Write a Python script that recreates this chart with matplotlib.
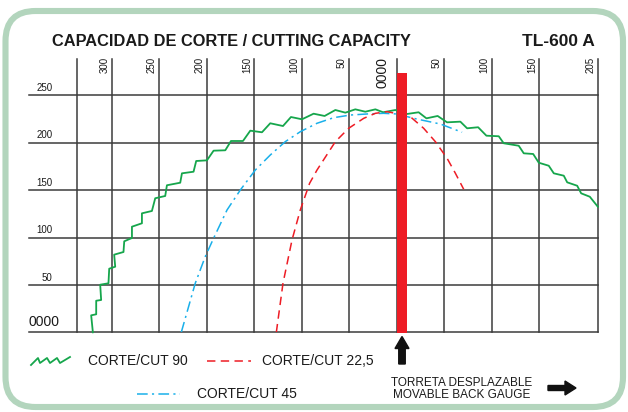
import matplotlib
matplotlib.use("Agg")
import matplotlib.pyplot as plt
from matplotlib.patches import FancyBboxPatch, Rectangle, FancyArrow

plt.rcParams['font.family'] = ['Liberation Sans', 'DejaVu Sans']

# ---------------- data ----------------
title = "CAPACIDAD DE CORTE / CUTTING CAPACITY"
model = "TL-600 A"

# CORTE/CUT 90 (stepped curve vertices)
green_x = [-319.8, -321.6, -316.3, -316.3, -311.1, -312.1, -303.4, -302.6, -296.3, -297.4,
           -287.6, -286.8, -278.7, -278.7, -268.2, -268.2, -257.7, -254.2, -243.7, -241.9,
           -227.9, -226.1, -213.9, -211.1, -199.8, -192.8, -180.5, -174.5, -161.9, -154.2,
           -141.9, -133.2, -119.8, -111.4, -99.8, -87.6, -76.0, -64.7, -54.2, -43.7,
           -33.2, -22.6, -14.5, -1.6, 10.7, 22.9, 31.1, 42.9, 52.8, 66.8,
           73.9, 85.5, 94.2, 107.2, 112.4, 128.2, 133.5, 143.4, 149.3, 159.8,
           165.1, 175.6, 179.2, 189.7, 193.9, 203.0, 211.4]
green_y = [0.0, 17.9, 19.0, 33.3, 34.1, 50.2, 51.7, 67.1, 69.2, 81.9,
           84.7, 96.0, 99.5, 111.4, 115.0, 125.5, 128.0, 141.4, 143.8, 155.1,
           157.8, 167.7, 169.4, 180.7, 181.4, 191.6, 192.0, 201.8, 201.8, 212.7,
           211.0, 220.5, 217.6, 227.1, 224.7, 230.6, 228.2, 234.5, 231.7, 235.2,
           232.7, 235.2, 232.1, 234.5, 230.3, 232.1, 225.7, 228.2, 221.5, 222.2,
           215.2, 216.3, 207.4, 206.8, 199.4, 196.8, 188.8, 188.1, 178.9, 175.7,
           167.7, 165.2, 158.2, 154.6, 146.6, 143.0, 132.5]

# CORTE/CUT 45
blue_x = [-226.8, -212.1, -201.6, -192.8, -178.7, -164.7, -148.9, -133.2, -117.4, -101.6,
          -84.0, -66.5, -48.9, -31.4, -13.9, 0.2, 17.7, 45.8, 68.6]
blue_y = [0.0, 51.7, 79.8, 99.2, 129.0, 150.1, 171.2, 187.0, 201.1, 211.6,
          220.5, 226.4, 229.2, 230.3, 231.0, 230.3, 225.7, 219.7, 211.0]

# CORTE/CUT 22,5
red_x = [-126.8, -119.8, -110.3, -101.6, -91.8, -84.0, -64.7, -50.7, -34.9, -22.6,
         -10.3, 3.7, 14.2, 28.2, 40.5, 52.8, 61.6, 70.3]
red_y = [0.0, 51.7, 97.4, 129.0, 157.2, 171.2, 201.1, 215.2, 225.7, 231.0,
         232.7, 230.0, 227.4, 215.2, 201.1, 183.6, 167.7, 150.9]

y_grid = [0, 50, 100, 150, 200, 250]
y_labels = ["0000", "50", "100", "150", "200", "250"]
x_grid = [-336, -300, -250, -200, -150, -100, -50, 0, 50, 100, 150, 211.6]
x_label_pos = [-300, -250, -200, -150, -100, -50, 50, 100, 150, 211.6]
x_labels = ["300", "250", "200", "150", "100", "50", "50", "100", "150", "205"]
zero_label = "0000"

legend_labels = ["CORTE/CUT 90", "CORTE/CUT 22,5", "CORTE/CUT 45"]
gauge_text = "TORRETA DESPLAZABLE\nMOVABLE BACK GAUGE"

GREEN = "#16a64c"
BLUE = "#1ab0ea"
RED = "#ee1c25"
GRID = "#3c3c3c"
FRAME = "#b3d5bd"

W, H = 628, 412
fig = plt.figure(figsize=(W / 100, H / 100), dpi=100)

# background / decoration axes in pixel coordinates
bg = fig.add_axes([0, 0, 1, 1])
bg.set_xlim(0, W)
bg.set_ylim(H, 0)
bg.axis('off')
frame = FancyBboxPatch((5.5, 11), 617.5, 396, boxstyle="round,pad=0,rounding_size=30",
                       fc='white', ec=FRAME, lw=4.4)
bg.add_patch(frame)

bg.text(52, 41, title, fontsize=11.8, fontweight='bold', ha='left', va='center', color='#1a1a1a')
bg.text(595, 41, model, fontsize=12.5, fontweight='bold', ha='right', va='center', color='#1a1a1a')

# chart axes
x0, x1 = -387, 211.6
y0, y1 = 0, 288.3
ax = fig.add_axes([29 / W, (H - 332.3) / H, (598 - 29) / W, (332.3 - 59) / H])
ax.set_xlim(x0, x1)
ax.set_ylim(y0, y1)
ax.axis('off')

for yv in y_grid:
    ax.plot([x0, x1], [yv, yv], color=GRID, lw=1.1, zorder=1, clip_on=False)
for xv in x_grid:
    ax.plot([xv, xv], [0, y1], color=GRID, lw=1.1, zorder=1, clip_on=False)

for yv, lab in zip(y_grid, y_labels):
    if yv == 0:
        ax.text(-388, 11, lab, fontsize=10, ha='left', va='center', color='#1a1a1a')
    else:
        ax.text(-362.5, yv + 2.5, lab, fontsize=7, ha='right', va='bottom', color='#1a1a1a')

for xv, lab in zip(x_label_pos, x_labels):
    ax.text(xv - 2.5, 290.4, lab, fontsize=7, rotation=90, ha='right', va='top', color='#1a1a1a',
            clip_on=False)
ax.text(-14.7, 290.4, zero_label, fontsize=10, rotation=90, ha='center', va='top', color='#1a1a1a',
        clip_on=False)

ax.plot(green_x, green_y, color=GREEN, lw=1.3, zorder=3, clip_on=False)
ax.plot(blue_x, blue_y, color=BLUE, lw=1.1, zorder=3, linestyle=(0, (7, 2.8, 1.4, 2.8)))
ax.plot(red_x, red_y, color=RED, lw=1.1, zorder=3, linestyle=(0, (5.5, 3.5)))

ax.add_patch(Rectangle((0, -1.2), 10.5, 275.2, fc=RED, ec='none', zorder=5, clip_on=False))

# legend (pixel coordinates)
zig_x = [31, 38, 40, 47, 50, 57, 60, 70]
zig_y = [365, 358, 363, 358, 363, 358, 363, 357]
bg.plot(zig_x, zig_y, color=GREEN, lw=1.3)
bg.text(88, 361, legend_labels[0], fontsize=10, ha='left', va='center', color='#1a1a1a')
bg.plot([207, 251], [361, 361], color=RED, lw=1.1, linestyle=(0, (5.5, 3.5)))
bg.text(262, 361, legend_labels[1], fontsize=10, ha='left', va='center', color='#1a1a1a')
bg.plot([137, 180], [394, 394], color=BLUE, lw=1.1, linestyle=(0, (7, 2.8, 1.4, 2.8)))
bg.text(197, 394, legend_labels[2], fontsize=10, ha='left', va='center', color='#1a1a1a')

bg.text(462, 389, gauge_text, fontsize=8.5, ha='center', va='center', color='#1a1a1a',
        linespacing=1.05)
bg.add_patch(FancyArrow(548, 388, 28, 0, width=5, head_width=14, head_length=11,
                        length_includes_head=True, color='#111111'))
bg.add_patch(FancyArrow(402, 364, 0, -27.5, width=6.5, head_width=14, head_length=12,
                        length_includes_head=True, color='#111111'))

fig.savefig("out.png", dpi=100)
